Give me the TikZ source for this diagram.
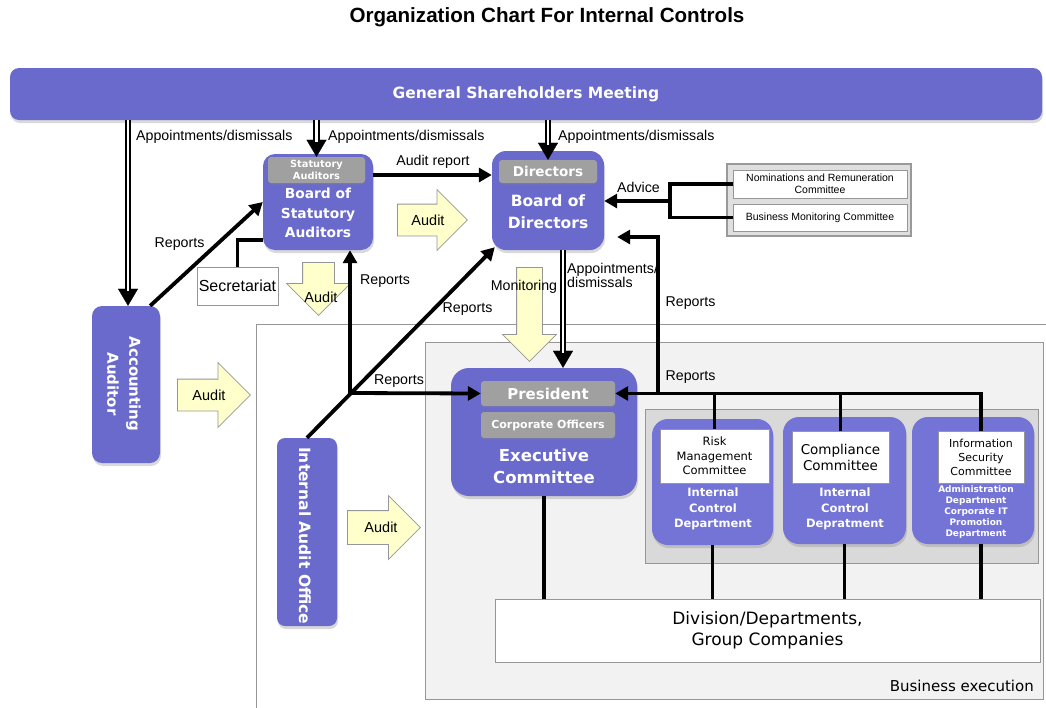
\documentclass[tikz,border=0pt]{standalone}
\usepackage{fontspec}
\setmainfont{Liberation Sans}
\newfontfamily\vfont{DejaVu Sans}
\usetikzlibrary{arrows.meta,positioning,shapes.arrows,shadows}

\definecolor{boxpurple}{RGB}{106,106,204}
\definecolor{deptpurple}{RGB}{116,116,214}
\definecolor{tabgray}{RGB}{160,160,160}
\definecolor{framegray}{RGB}{150,150,150}
\definecolor{execbg}{RGB}{242,242,242}
\definecolor{deptbg}{RGB}{217,217,217}
\definecolor{auditfill}{RGB}{255,255,204}

\begin{document}
\begin{tikzpicture}[x=1pt, y=-1pt,
    org/.style={fill=boxpurple, rounded corners=12pt, inner sep=0pt, drop shadow={shadow xshift=1pt, shadow yshift=-3pt, opacity=0.3}},
    dept/.style={org, fill=deptpurple, rounded corners=16pt, minimum width=121pt, minimum height=126pt},
    tab/.style={fill=tabgray, rounded corners=3pt, inner sep=0pt, text=white, drop shadow={shadow xshift=0.5pt, shadow yshift=-1.5pt, opacity=0.3}},
    wbox/.style={draw=framegray, fill=white, inner sep=0pt, align=center},
    intext/.style={text=white, align=center, inner sep=0pt},
    audarrow/.style={single arrow, anchor=tail, draw=framegray, fill=auditfill, single arrow tip angle=90, inner xsep=0pt, line width=0.8pt},
    lbl/.style={font=\fontsize{14.2}{14}\selectfont, inner sep=0pt},
    link/.style={line width=3.8pt},
    arr/.style={link, -{Triangle[length=13pt,width=14pt]}},
    dbltip/.style={line width=0.2pt, -{Triangle[length=17pt,width=20pt]}},
    dbl/.style={double, double distance=2.5pt, line width=1.8pt, shorten >=15pt}
]
    \useasboundingbox (0,0) rectangle (1046,707);

    % Title
    \node[font=\bfseries\fontsize{20.6}{24}\selectfont] (title) at (547,17) {Organization Chart For Internal Controls};

    % Frames
    \draw[framegray, fill=white] (256,324) rectangle (1060,720);
    \draw[framegray, fill=execbg] (425,342) rectangle (1043,699);
    \draw[framegray, fill=deptbg] (645,409) rectangle (1038,563);
    \node[anchor=east, inner sep=0pt, font=\vfont\fontsize{15}{18}\selectfont] (bizlbl) at (1034,686) {Business execution};

    % Audit arrows
    \node[audarrow, minimum height=70pt, inner ysep=15.5pt, single arrow head extend=14.5pt] (audbod) at (397,220) {};
    \node[audarrow, minimum height=73pt, inner ysep=15.5pt, single arrow head extend=16.5pt] (audexec) at (177,395) {};
    \node[audarrow, minimum height=73pt, inner ysep=16.5pt, single arrow head extend=15pt] (audbiz) at (347,527.5) {};
    \node[audarrow, rotate=-90, minimum height=53pt, inner ysep=15.5pt, single arrow head extend=16pt] (audsec) at (318.5,262) {};
    \node[audarrow, rotate=-90, minimum height=94pt, inner ysep=12.5pt, single arrow head extend=14pt] (monarrow) at (529.5,267) {};

    % General Shareholders Meeting
    \node[org, rounded corners=9pt, minimum width=1032pt, minimum height=52pt, text=white, font=\vfont\bfseries\fontsize{15.5}{17}\selectfont] (gsm) at (526,94) {General Shareholders Meeting};

    % Board of Statutory Auditors
    \node[org, minimum width=110pt, minimum height=96pt] (bsa) at (318,202) {};
    \node[tab, minimum width=97pt, minimum height=26pt, align=center, font=\vfont\bfseries\fontsize{9.8}{12}\selectfont] (bsatab) at (316.5,170) {Statutory\\Auditors};
    \node[intext, font=\vfont\bfseries\fontsize{13.8}{19.5}\selectfont] (bsatext) at (318,213) {Board of\\Statutory\\Auditors};

    % Board of Directors
    \node[org, rounded corners=14pt, minimum width=112pt, minimum height=99pt] (bod) at (548,200.5) {};
    \node[tab, minimum width=98pt, minimum height=23pt, font=\vfont\bfseries\fontsize{13.5}{16}\selectfont] (bodtab) at (548,171.5) {Directors};
    \node[intext, font=\vfont\bfseries\fontsize{15.5}{22}\selectfont] (bodtext) at (548,212) {Board of\\Directors};

    % Executive Committee
    \node[org, rounded corners=18pt, minimum width=186pt, minimum height=128pt] (exec) at (544,432) {};
    \node[tab, minimum width=134pt, minimum height=25pt, font=\vfont\bfseries\fontsize{15}{18}\selectfont] (prestab) at (548,393.5) {President};
    \node[tab, minimum width=134pt, minimum height=26pt, font=\vfont\bfseries\fontsize{11}{13}\selectfont] (offtab) at (548,425) {Corporate Officers};
    \node[intext, font=\vfont\bfseries\fontsize{16.5}{22}\selectfont] (exectext) at (544,466) {Executive\\Committee};

    % Auditors on the left
    \node[org, rounded corners=10pt, minimum width=68pt, minimum height=157pt] (acct) at (126,384.5) {};
    \node[intext, rotate=-90, font=\vfont\bfseries\fontsize{15}{22}\selectfont] (accttext) at (124,384) {Accounting\\Auditor};
    \node[org, rounded corners=8pt, minimum width=60pt, minimum height=188pt] (iao) at (307,532) {};
    \node[intext, rotate=-90, anchor=west, font=\vfont\bfseries\fontsize{15.5}{18}\selectfont] (iaotext) at (305,447) {Internal Audit Office};
    \node[draw=framegray, fill=white, minimum width=81pt, minimum height=38pt, inner sep=0pt, font=\fontsize{16}{18}\selectfont] (secr) at (237.5,286) {Secretariat};

    % Advisory committees
    \node[draw=gray!80, fill=gray!25, line width=1.5pt, minimum width=184pt, minimum height=72pt] (advgrp) at (819,200) {};
    \node[wbox, minimum width=174pt, minimum height=28pt, font=\fontsize{10.5}{12}\selectfont] (nomc) at (820,184) {Nominations and Remuneration\\Committee};
    \node[wbox, minimum width=174pt, minimum height=27pt, font=\fontsize{10.5}{12}\selectfont] (bmc) at (820,217.5) {Business Monitoring Committee};

    % Departments
    \node[dept] (riskd) at (712.5,482) {};
    \node[wbox, minimum width=109pt, minimum height=54pt, font=\vfont\fontsize{11.5}{14.5}\selectfont] (riskc) at (714.5,456) {Risk\\Management\\Committee};
    \node[intext, font=\vfont\bfseries\fontsize{11.5}{15.5}\selectfont] (risktext) at (713,509) {Internal\\Control\\Department};
    \node[dept, minimum width=123pt, minimum height=127pt] (compd) at (844.5,480.5) {};
    \node[wbox, minimum width=97pt, minimum height=52pt, font=\vfont\fontsize{13.5}{16}\selectfont] (compc) at (840.5,457) {Compliance\\Committee};
    \node[intext, font=\vfont\bfseries\fontsize{11.5}{15.5}\selectfont] (comptext) at (845,509) {Internal\\Control\\Depratment};
    \node[dept, minimum width=122pt, minimum height=127pt] (infod) at (973,480.5) {};
    \node[wbox, minimum width=86pt, minimum height=52pt, font=\vfont\fontsize{11}{14}\selectfont] (infoc) at (981,457) {Information\\Security\\Committee};
    \node[intext, font=\vfont\bfseries\fontsize{9}{11}\selectfont] (infotext) at (976,512.5) {Administration\\Department\\Corporate IT\\Promotion\\Department};

    \node[wbox, minimum width=545pt, minimum height=63pt, font=\vfont\fontsize{17}{21}\selectfont] (divs) at (767.5,630.5) {Division/Departments,\\Group Companies};

    % Appointments
    \draw[dbltip] ([xshift=2pt]acct.north |- gsm.south) -- ([xshift=2pt]acct.north);
    \draw[dbl] ([xshift=2pt]acct.north |- gsm.south) -- ([xshift=2pt]acct.north);
    \draw[dbltip] (bsatab.north |- gsm.south) -- (bsatab.north);
    \draw[dbl] (bsatab.north |- gsm.south) -- (bsatab.north);
    \draw[dbltip] (bodtab.north |- gsm.south) -- (bodtab.north);
    \draw[dbl] (bodtab.north |- gsm.south) -- (bodtab.north);
    \draw[dbltip] ([xshift=15pt]bod.south) -- ([xshift=15pt]bod.south |- exec.north);
    \draw[dbl] ([xshift=15pt]bod.south) -- ([xshift=15pt]bod.south |- exec.north);

    % Reports and audit
    \draw[arr] ([yshift=27pt]bsa.east) -- ([yshift=27pt]bsa.east -| bod.west);
    \draw[arr] ([xshift=-10pt]acct.north east) -- (bsa.west);
    \draw[link] (secr.north) |- ([yshift=-38pt]bsa.west);
    \coordinate (hub) at (350,393);
    \draw[arr] (iao.north) -- ([shift={(3pt,3pt)}]bod.south west);
    \draw[arr] (hub) -- (hub |- bsa.south);
    \draw[arr] (hub) -- (prestab.west);

    % Reports from departments
    \draw[arr] (infoc.north) |- (prestab.east);
    \draw[link] (riskc.north) -- (riskc.north |- prestab.east);
    \draw[link] (compc.north) -- (compc.north |- prestab.east);
    \draw[arr] ([xshift=43pt]prestab.east) |- ([shift={(13pt,-36.5pt)}]bod.east);

    % Advice
    \coordinate (advj) at (670,201);
    \draw[link] (nomc.west) -| (advj) |- (bmc.west);
    \draw[arr] (advj) -- (advj -| bod.east);

    % Execution lines
    \draw[link] (exec.south) -- (exec.south |- divs.north);
    \draw[link] (riskd.south) -- (riskd.south |- divs.north);
    \draw[link] (compd.south) -- (compd.south |- divs.north);
    \draw[link] (infoc.south |- infod.south) -- (infoc.south |- divs.north);

    % Labels
    \node[lbl, anchor=west] (appt1) at (136,137) {Appointments/dismissals};
    \node[lbl, anchor=west] (appt2) at (328,137) {Appointments/dismissals};
    \node[lbl, anchor=west] (appt3) at (558,137) {Appointments/dismissals};
    \node[lbl, anchor=north west, align=left] (appt4) at (567,263) {Appointments/\\dismissals};
    \node[lbl] (auditrep) at (433,162) {Audit report};
    \node[lbl] (rep1) at (179.5,244) {Reports};
    \node[lbl] (rep2) at (385,281) {Reports};
    \node[lbl] (rep3) at (467.5,309) {Reports};
    \node[lbl] (rep4) at (399,381) {Reports};
    \node[lbl] (rep5) at (690.5,303) {Reports};
    \node[lbl] (rep6) at (690.5,377) {Reports};
    \node[lbl] (advlbl) at (638.5,187) {Advice};
    \node[lbl] (monlbl) at (524,287) {Monitoring};
    \node[lbl, font=\fontsize{14.5}{15}\selectfont] (audbodlbl) at (428,220) {Audit};
    \node[lbl, font=\fontsize{14.5}{15}\selectfont] (audexeclbl) at (209,395) {Audit};
    \node[lbl, font=\fontsize{14.5}{15}\selectfont] (audbizlbl) at (381,527) {Audit};
    \node[lbl, font=\fontsize{14.5}{15}\selectfont] (audseclbl) at (321,297) {Audit};
\end{tikzpicture}
\end{document}
